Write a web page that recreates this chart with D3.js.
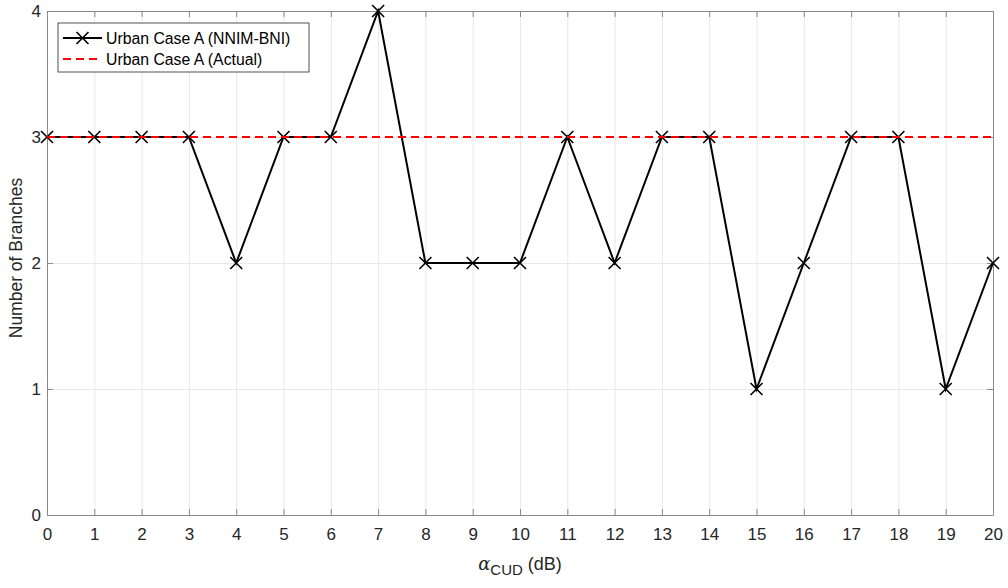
<!DOCTYPE html>
<html>
<head>
<meta charset="utf-8">
<script src="https://cdn.jsdelivr.net/npm/d3@7"></script>
<style>
  body { margin: 0; background: #fff; }
  svg { display: block; font-family: "Liberation Sans", Arial, sans-serif; }
  .grid line { stroke: #e8e8e8; stroke-width: 1; }
  .grid .domain { display: none; }
</style>
</head>
<body>
<div id="chart"></div>
<script>
var xValues = [0, 1, 2, 3, 4, 5, 6, 7, 8, 9, 10, 11, 12, 13, 14, 15, 16, 17, 18, 19, 20];
var nnimBni = [3, 3, 3, 3, 2, 3, 3, 4, 2, 2, 2, 3, 2, 3, 3, 1, 2, 3, 3, 1, 2];
var actual = 3;
var xTicks = d3.range(0, 21);
var yTicks = [0, 1, 2, 3, 4];
var seriesNames = ["Urban Case A (NNIM-BNI)", "Urban Case A (Actual)"];

var W = 1008, H = 588;
var margin = {top: 11, right: 15, bottom: 73, left: 47};
var width = W - margin.left - margin.right;
var height = H - margin.top - margin.bottom;

var svg = d3.select("#chart").append("svg")
    .attr("width", W)
    .attr("height", H);

var g = svg.append("g")
    .attr("transform", "translate(" + margin.left + "," + margin.top + ")");

var x = d3.scaleLinear().domain([0, 20]).range([0, width]);
var y = d3.scaleLinear().domain([0, 4]).range([height, 0]);

// gridlines
g.append("g")
    .attr("class", "grid")
    .attr("transform", "translate(0," + height + ")")
    .call(d3.axisBottom(x).tickValues(xTicks).tickSize(-height).tickFormat(""));
g.append("g")
    .attr("class", "grid")
    .call(d3.axisLeft(y).tickValues(yTicks).tickSize(-width).tickFormat(""));

var axisColor = "#8a8a8a";

// axes, ticks pointing inward
var xAxis = g.append("g")
    .attr("transform", "translate(0," + height + ")")
    .call(d3.axisBottom(x).tickValues(xTicks).tickFormat(d3.format("d"))
          .tickSizeInner(-6).tickSizeOuter(0).tickPadding(13));
var yAxis = g.append("g")
    .call(d3.axisLeft(y).tickValues(yTicks).tickFormat(d3.format("d"))
          .tickSizeInner(-6).tickSizeOuter(0).tickPadding(6));
var xTop = g.append("g")
    .call(d3.axisTop(x).tickValues(xTicks).tickSizeInner(-6).tickSizeOuter(0).tickFormat(""));
var yRight = g.append("g")
    .attr("transform", "translate(" + width + ",0)")
    .call(d3.axisRight(y).tickValues(yTicks).tickSizeInner(-6).tickSizeOuter(0).tickFormat(""));

[xAxis, yAxis, xTop, yRight].forEach(function(a) {
  a.selectAll(".domain").attr("stroke", axisColor);
  a.selectAll(".tick line").attr("stroke", axisColor);
  a.selectAll(".tick text")
      .attr("font-size", 17)
      .attr("font-family", "'Liberation Sans', Arial, sans-serif")
      .attr("fill", "#262626");
});

// black series
var line = d3.line()
    .x(function(d, i) { return x(xValues[i]); })
    .y(function(d) { return y(d); });

g.append("path")
    .datum(nnimBni)
    .attr("fill", "none")
    .attr("stroke", "#000")
    .attr("stroke-width", 2)
    .attr("d", line);

var s = 6;
function cross(cx, cy) {
  return "M" + (cx - s) + "," + (cy - s) + "L" + (cx + s) + "," + (cy + s) +
         "M" + (cx - s) + "," + (cy + s) + "L" + (cx + s) + "," + (cy - s);
}

g.selectAll(".mark")
    .data(nnimBni)
  .enter().append("path")
    .attr("class", "mark")
    .attr("fill", "none")
    .attr("stroke", "#000")
    .attr("stroke-width", 1.6)
    .attr("d", function(d, i) { return cross(x(xValues[i]), y(d)); });

// red dashed actual
g.append("line")
    .attr("x1", x(0)).attr("x2", x(20))
    .attr("y1", y(actual)).attr("y2", y(actual))
    .attr("stroke", "#ff0000")
    .attr("stroke-width", 2)
    .attr("stroke-dasharray", "8,5");

// labels
svg.append("text")
    .attr("text-anchor", "middle")
    .attr("transform", "translate(22,258)rotate(-90)")
    .attr("font-size", 17.5)
    .attr("fill", "#262626")
    .text("Number of Branches");

var xl = svg.append("text")
    .attr("text-anchor", "middle")
    .attr("x", margin.left + width / 2)
    .attr("y", 570)
    .attr("font-size", 18)
    .attr("fill", "#262626");
xl.append("tspan").attr("font-family", "'DejaVu Serif', serif").attr("font-style", "italic").text("\u03b1");
xl.append("tspan").attr("dy", 5).attr("font-size", 15).text("CUD");
xl.append("tspan").attr("dy", -5).text(" (dB)");

// legend
var lg = g.append("g").attr("transform", "translate(11,12)");
lg.append("rect")
    .attr("width", 251).attr("height", 49)
    .attr("fill", "#fff").attr("stroke", "#262626").attr("stroke-width", 0.8);

lg.append("line").attr("x1", 5).attr("x2", 44).attr("y1", 15).attr("y2", 15)
    .attr("stroke", "#000").attr("stroke-width", 2);
lg.append("path")
    .attr("d", cross(24.5, 15))
    .attr("stroke", "#000").attr("stroke-width", 1.6);
lg.append("line").attr("x1", 5).attr("x2", 44).attr("y1", 36).attr("y2", 36)
    .attr("stroke", "#ff0000").attr("stroke-width", 2).attr("stroke-dasharray", "8,5");

lg.selectAll(".ltext")
    .data(seriesNames)
  .enter().append("text")
    .attr("x", 48)
    .attr("y", function(d, i) { return 15 + i * 21; })
    .attr("dy", "0.35em")
    .attr("font-size", 15.8)
    .attr("fill", "#000")
    .text(function(d) { return d; });
</script>
</body>
</html>
